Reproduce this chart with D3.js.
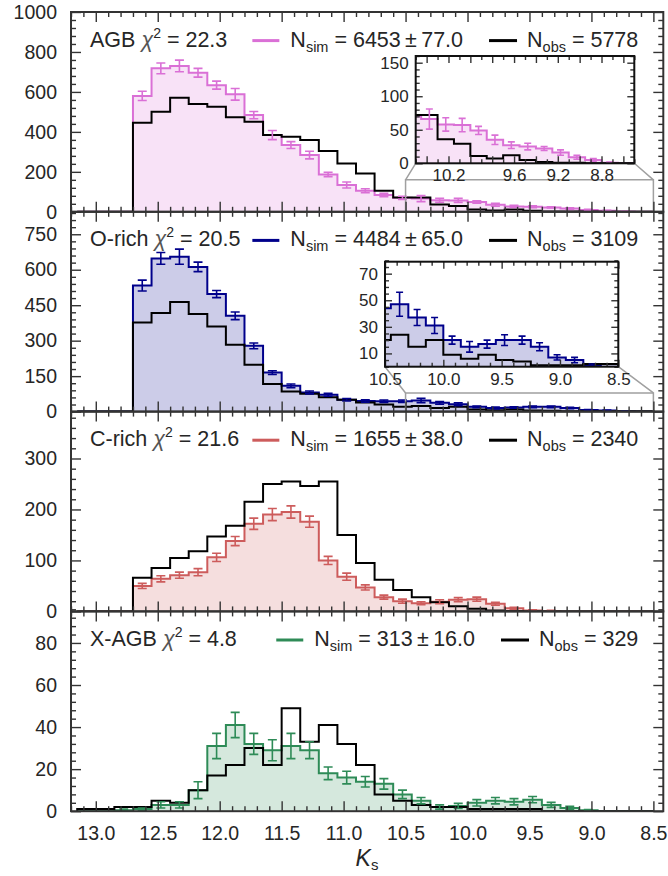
<!DOCTYPE html>
<html>
<head>
<meta charset="utf-8">
<script src="https://cdn.jsdelivr.net/npm/d3@7"></script>
<style>
  body { margin: 0; background: #fff; }
  text { font-family: "Liberation Sans", Arial, Helvetica, sans-serif; fill: #262626; }
</style>
</head>
<body>
<svg id="chart" width="668" height="876"></svg>
<script>
// Bin edges in Ks (bright to faint), 31 bins of 0.15 mag
const binEdges = [13.15, 13.00, 12.85, 12.70, 12.55, 12.40, 12.25, 12.10, 11.95, 11.80, 11.65,
  11.50, 11.35, 11.20, 11.05, 10.90, 10.75, 10.60, 10.45, 10.30, 10.15, 10.00, 9.85, 9.70,
  9.55, 9.40, 9.25, 9.10, 8.95, 8.80, 8.65, 8.50];

// Panel labels
const panelNames = ["AGB", "O-rich", "C-rich", "X-AGB"];
const chi2 = ["22.3", "20.5", "21.6", "4.8"];
const nSim = ["6453", "4484", "1655", "313"];
const nSimErr = ["77.0", "65.0", "38.0", "16.0"];
const nObs = ["5778", "3109", "2340", "329"];

// Counts per bin
const agbSim = [0, 0, 0, 580, 718, 730, 696, 634, 588, 484, 384, 334, 284, 187, 134, 105, 84, 70, 66, 58, 57, 49, 35, 27, 25, 22, 16, 9, 5, 1, 0];
const agbSimErr = [0, 0, 0, 23, 27, 29, 22, 20, 29, 18, 23, 17, 19, 11, 15, 10, 8, 8, 15, 10, 10, 6, 7, 5, 5, 3, 4, 3, 2, 1, 0];
const agbObs = [0, 0, 0, 446, 501, 571, 539, 526, 473, 451, 384, 376, 359, 304, 242, 192, 105, 72, 72, 36, 29, 11, 7, 12, 5, 2, 1, 1, 0, 0, 0];

const orichSim = [0, 0, 0, 533, 648, 655, 612, 497, 405, 278, 165, 109, 81, 71, 50, 45, 44, 44, 47, 37, 31, 20, 15, 17, 20, 20, 15, 7, 5, 1, 0];
const orichSimErr = [0, 0, 0, 23, 25, 32, 20, 15, 16, 12, 8, 8, 6, 6, 5, 5, 5, 5, 9, 6, 6, 3, 4, 3, 4, 3, 3, 2, 2, 1, 0];
const orichObs = [0, 0, 0, 377, 417, 463, 413, 360, 283, 198, 117, 85, 75, 61, 50, 38, 30, 20, 24, 15, 20, 9, 6, 9, 5, 4, 1, 1, 1, 2, 2];

const crichSim = [0, 0, 0, 50, 64, 71, 77, 106, 138, 172, 190, 195, 176, 100, 68, 47, 28, 20, 16, 19, 23, 24, 15, 6, 2, 1, 0, 0, 0, 0, 0];
const crichSimErr = [0, 0, 0, 5, 6, 6, 7, 8, 9, 11, 12, 12, 11, 8, 7, 5, 4, 4, 3, 4, 4, 4, 3, 2, 1, 1, 0, 0, 0, 0, 0];
const crichObs = [0, 0, 0, 66, 85, 105, 118, 147, 168, 215, 250, 255, 246, 255, 150, 95, 62, 42, 28, 18, 10, 5, 2, 1, 0, 0, 0, 0, 0, 0, 0];

const xagbSim = [0, 0, 0.5, 1, 3, 3, 10, 31, 41, 32, 29, 31, 29, 18, 16, 14, 13, 8, 5, 2, 2.5, 4, 5, 4.5, 5.5, 3, 1.5, 0.5, 0, 0, 0];
const xagbSimErr = [0, 0, 0.5, 0.5, 1.5, 1.5, 4, 6, 6, 5, 5, 6, 4, 3, 3, 2.5, 2.5, 2, 1.5, 1, 1.2, 1.5, 1.5, 1.5, 1.5, 1.2, 0.8, 0.3, 0, 0, 0];
const xagbObs = [1, 1, 2, 2, 5, 4, 10, 17, 22, 30, 22, 49, 33, 41, 32, 22, 8, 5, 3, 2, 2, 1, 1, 1, 1, 0, 0, 0, 0, 0, 0];

// Axis ticks
const xMajorTicks = [13.0, 12.5, 12.0, 11.5, 11.0, 10.5, 10.0, 9.5, 9.0, 8.5];
const yMajorTicks = [
  [0, 200, 400, 600, 800, 1000],
  [0, 150, 300, 450, 600, 750],
  [0, 100, 200, 300],
  [0, 20, 40, 60, 80]
];
const yMinorStep = [40, 30, 20, 4];
const yLimits = [1000, 845, 392, 95];

// Inset ticks
const agbInsetXTicks = [10.4, 10.2, 10.0, 9.8, 9.6, 9.4, 9.2, 9.0, 8.8, 8.6];
const agbInsetXLabels = [10.2, 9.6, 9.2, 8.8];
const agbInsetYTicks = [0, 50, 100, 150];
const orichInsetXTicks = [10.5, 10.0, 9.5, 9.0, 8.5];
const orichInsetYTicks = [10, 30, 50, 70];

const sims = [agbSim, orichSim, crichSim, xagbSim];
const errs = [agbSimErr, orichSimErr, crichSimErr, xagbSimErr];
const obss = [agbObs, orichObs, crichObs, xagbObs];
const colors = ["orchid", "darkblue", "indianred", "seagreen"];

const svg = d3.select("#chart");
const left = 71, right = 663.3, top0 = 12, panelH = 199.8;
const FS_TICK = 19.5, FS_TEXT = 21.5, FS_INSET = 17;

const x = d3.scaleLinear().domain([13.2, 8.42]).range([left, right]);

function stepPoints(vals) {
  const pts = [[binEdges[0], 0]];
  vals.forEach((v, i) => pts.push([binEdges[i], v], [binEdges[i + 1], v]));
  pts.push([binEdges[binEdges.length - 1], 0]);
  return pts;
}

function drawHist(g, xs, ys, sim, err, obs, color, cap, lw) {
  const simPts = stepPoints(sim);
  g.append("path").datum(simPts)
    .attr("d", d3.area().x(d => xs(d[0])).y0(ys(0)).y1(d => ys(d[1])))
    .attr("fill", color).attr("fill-opacity", 0.2);
  const line = d3.line().x(d => xs(d[0])).y(d => ys(d[1]));
  g.append("path").datum(simPts).attr("d", line)
    .attr("fill", "none").attr("stroke", color).attr("stroke-width", lw);
  g.append("path").datum(stepPoints(obs)).attr("d", line)
    .attr("fill", "none").attr("stroke", "#000").attr("stroke-width", lw);
  const ebData = sim.map((v, i) => ({v: v, e: err[i], c: (binEdges[i] + binEdges[i + 1]) / 2}))
    .filter(d => d.v > 0 && d.e > 0);
  const eb = g.append("g").attr("stroke", color).attr("stroke-width", 1.6);
  eb.selectAll("line.v").data(ebData).enter().append("line")
    .attr("x1", d => xs(d.c)).attr("x2", d => xs(d.c))
    .attr("y1", d => ys(d.v - d.e)).attr("y2", d => ys(d.v + d.e));
  [-1, 1].forEach(s => {
    eb.selectAll("line.c" + s).data(ebData).enter().append("line")
      .attr("x1", d => xs(d.c) - cap).attr("x2", d => xs(d.c) + cap)
      .attr("y1", d => ys(d.v + s * d.e)).attr("y2", d => ys(d.v + s * d.e));
  });
}

function addAxis(g, orient, scale, values, size, fmt, fs, pad) {
  const maker = {left: d3.axisLeft, right: d3.axisRight, top: d3.axisTop, bottom: d3.axisBottom}[orient];
  const ax = maker(scale).tickValues(values).tickSizeInner(-size).tickSizeOuter(0)
    .tickPadding(pad).tickFormat(fmt || (() => ""));
  g.call(ax);
  g.select(".domain").remove();
  g.attr("font-family", null).attr("font-size", fs);
  g.selectAll(".tick line").attr("stroke", "#333").attr("stroke-width", 1.4);
  g.selectAll(".tick text").attr("fill", "#262626");
}

function minorValues(lo, hi, step, isMajor) {
  const n = Math.round((hi - lo) / step);
  return d3.range(0, n + 1).map(k => +(lo + k * step).toFixed(3)).filter(v => !isMajor(v));
}

function frame(g, xs, ys, xMaj, xMin, yMaj, yMin, majLen, minLen, opts) {
  const [x0, x1] = xs.range(), [y0, y1] = ys.range();
  const xl = opts.xLabels, yf = opts.yFormat;
  const bottom = g.append("g").attr("transform", `translate(0,${y0})`);
  addAxis(bottom, "bottom", xs, xMaj, majLen, xl ? (v => xl.includes(v) ? d3.format(".1f")(v) : "") : null, opts.fs, opts.xPad);
  addAxis(g.append("g").attr("transform", `translate(0,${y0})`), "bottom", xs, xMin, minLen);
  addAxis(g.append("g").attr("transform", `translate(0,${y1})`), "top", xs, xMaj, majLen);
  addAxis(g.append("g").attr("transform", `translate(0,${y1})`), "top", xs, xMin, minLen);
  addAxis(g.append("g").attr("transform", `translate(${x0},0)`), "left", ys, yMaj, majLen, yf, opts.fs, opts.yPad);
  addAxis(g.append("g").attr("transform", `translate(${x0},0)`), "left", ys, yMin, minLen);
  addAxis(g.append("g").attr("transform", `translate(${x1},0)`), "right", ys, yMaj, majLen);
  addAxis(g.append("g").attr("transform", `translate(${x1},0)`), "right", ys, yMin, minLen);
  g.append("rect").attr("x", x0).attr("y", y1).attr("width", x1 - x0).attr("height", y0 - y1)
    .attr("fill", "none").attr("stroke", opts.spine).attr("stroke-width", 2);
}

const insets = [
  {panel: 0, box: [415.7, 56, 634.3, 163.3], xDomain: [10.5, 8.5], yMax: 160,
    xMaj: agbInsetXTicks, xLabels: agbInsetXLabels, xMinStep: 0.1, yMaj: agbInsetYTicks, yMinStep: 10},
  {panel: 1, box: [385, 261.7, 618.3, 366.7], xDomain: [10.5, 8.5], yMax: 79,
    xMaj: orichInsetXTicks, xLabels: orichInsetXTicks, xMinStep: 0.1, yMaj: orichInsetYTicks, yMinStep: 5}
];

const xMinor = minorValues(8.5, 13.2, 0.1, v => Math.round(v * 10) % 5 === 0);

panelNames.forEach((name, i) => {
  const top = top0 + i * panelH, bot = top + panelH;
  const y = d3.scaleLinear().domain([0, yLimits[i]]).range([bot, top]);
  const g = svg.append("g");
  const clipId = "clip" + i;
  svg.append("clipPath").attr("id", clipId).append("rect")
    .attr("x", left).attr("y", top).attr("width", right - left).attr("height", panelH);
  const body = g.append("g").attr("clip-path", `url(#${clipId})`);
  drawHist(body, x, y, sims[i], errs[i], obss[i], colors[i], 4.5, 2);

  // inset
  insets.filter(s => s.panel === i).forEach(s => {
    const [bx0, by0, bx1, by1] = s.box;
    const xi = d3.scaleLinear().domain(s.xDomain).range([bx0, bx1]);
    const yi = d3.scaleLinear().domain([0, s.yMax]).range([by1, by0]);
    const rx0 = x(s.xDomain[0]), rx1 = x(s.xDomain[1]), ry = y(s.yMax);
    const gray = g.append("g").attr("stroke", "#a0a0a0").attr("stroke-width", 1.5).attr("fill", "none");
    gray.append("path").attr("d", `M${rx0},${bot}V${ry}H${rx1}V${bot}`);
    gray.append("path").attr("d", `M${rx0},${ry}L${bx0},${by1}M${rx1},${ry}L${bx1},${by1}`);
    const ig = g.append("g");
    ig.append("rect").attr("x", bx0).attr("y", by0).attr("width", bx1 - bx0).attr("height", by1 - by0).attr("fill", "#fff");
    const icid = "iclip" + i;
    svg.append("clipPath").attr("id", icid).append("rect")
      .attr("x", bx0).attr("y", by0).attr("width", bx1 - bx0).attr("height", by1 - by0);
    drawHist(ig.append("g").attr("clip-path", `url(#${icid})`), xi, yi, sims[i], errs[i], obss[i], colors[i], 3.5, 2);
    const xMinI = minorValues(8.5, 10.5, s.xMinStep, v => s.xMaj.some(m => Math.abs(m - v) < 1e-6));
    const yMinI = minorValues(0, s.yMax, s.yMinStep, v => s.yMaj.includes(v));
    frame(ig, xi, yi, s.xMaj, xMinI, s.yMaj, yMinI, 7, 4,
      {xLabels: s.xLabels, yFormat: d3.format("d"), fs: FS_INSET, xPad: 6, yPad: 7, spine: "#111"});
  });

  const yMin = minorValues(0, yLimits[i], yMinorStep[i], v => v % (yMajorTicks[i][1]) === 0);
  frame(g, x, y, xMajorTicks, xMinor, yMajorTicks[i], yMin, 10, 5,
    {xLabels: i === panelNames.length - 1 ? xMajorTicks : null, yFormat: d3.format("d"),
      fs: FS_TICK, xPad: 15, yPad: 14, spine: "#333"});

  // title with chi^2
  const base = top + 34.6;
  const t = g.append("text").attr("x", 90).attr("y", base).attr("font-size", FS_TEXT);
  t.append("tspan").text(name + " ");
  t.append("tspan").attr("font-style", "italic").attr("fill", "#555").text("χ");
  t.append("tspan").attr("font-size", 14).attr("dy", -9).text("2");
  t.append("tspan").attr("dy", 9).text(" = " + chi2[i]);

  // legend, right aligned
  const lo = g.append("text").attr("y", base).attr("font-size", FS_TEXT);
  lo.append("tspan").text("N");
  lo.append("tspan").attr("font-size", 14.5).attr("dy", 5).text("obs");
  lo.append("tspan").attr("dy", -5).text(" = " + nObs[i]);
  const wObs = lo.node().getComputedTextLength();
  const obsStart = 638.3 - wObs;
  lo.attr("x", obsStart);
  const hObs1 = obsStart - 10, hObs0 = hObs1 - 28;
  g.append("line").attr("x1", hObs0).attr("x2", hObs1).attr("y1", base - 6).attr("y2", base - 6)
    .attr("stroke", "#000").attr("stroke-width", 3);
  const ls = g.append("text").attr("y", base).attr("font-size", FS_TEXT);
  ls.append("tspan").text("N");
  ls.append("tspan").attr("font-size", 14.5).attr("dy", 5).text("sim");
  ls.append("tspan").attr("dy", -5).text(" = " + nSim[i] + "\u2009±\u2009" + nSimErr[i]);
  const wSim = ls.node().getComputedTextLength();
  const simStart = hObs0 - 26 - wSim;
  ls.attr("x", simStart);
  g.append("line").attr("x1", simStart - 38).attr("x2", simStart - 11).attr("y1", base - 6).attr("y2", base - 6)
    .attr("stroke", colors[i]).attr("stroke-width", 3);
});

// x label
const xl = svg.append("text").attr("x", 367).attr("y", 866).attr("text-anchor", "middle").attr("font-size", 23);
xl.append("tspan").attr("font-style", "italic").text("K");
xl.append("tspan").attr("font-size", 15).attr("dy", 4).text("s");
</script>
</body>
</html>
